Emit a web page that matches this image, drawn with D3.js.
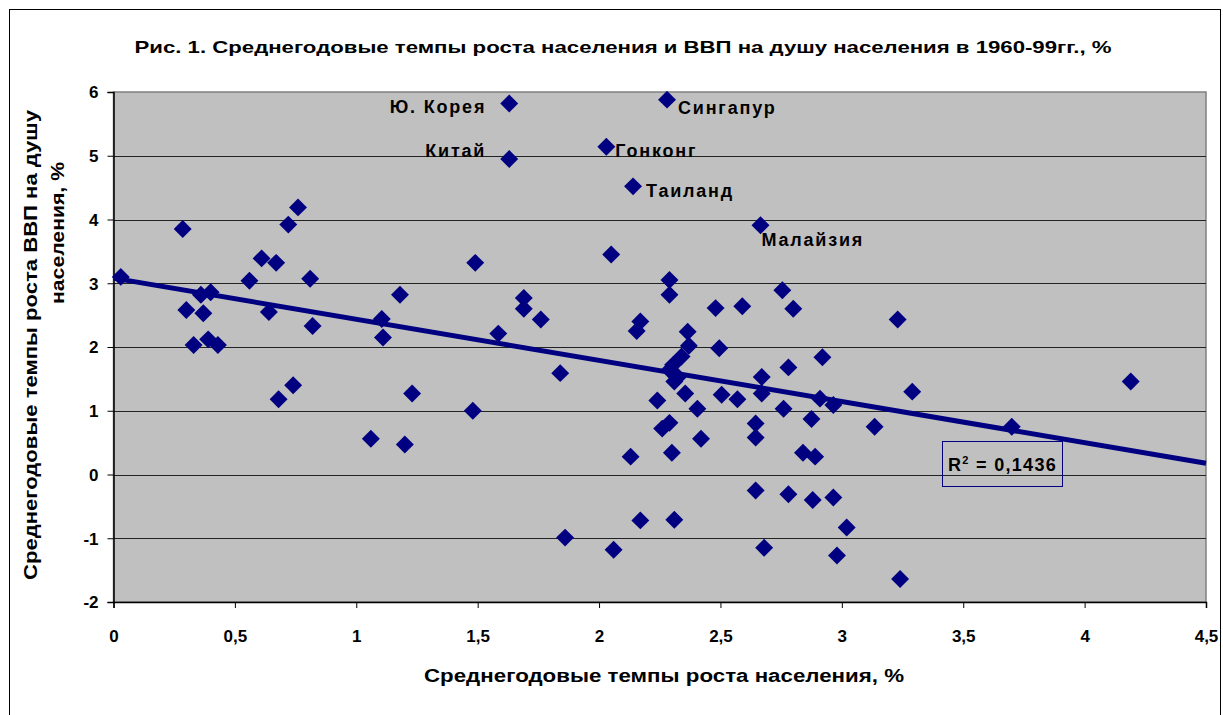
<!DOCTYPE html>
<html>
<head>
<meta charset="utf-8">
<script src="https://cdn.jsdelivr.net/npm/d3@7"></script>
<style>
  body { margin: 0; background: #fff; }
  text { font-family: "Liberation Sans", Arial, sans-serif; font-weight: bold; }
</style>
</head>
<body>
<div id="chart"></div>
<script>
// population growth, % (x) and GDP per capita growth, % (y), 1960-99
var popGrowth = [
  0.03, 0.285, 0.76, 0.72, 0.61, 0.67, 0.56, 0.81, 0.30, 0.36,
  0.40, 0.37, 0.64, 0.82, 1.105, 1.11, 1.18, 0.33, 0.39, 0.43,
  0.68, 0.74, 1.06, 1.585, 1.23, 1.20, 1.48, 1.84, 1.86, 2.06,
  2.17, 2.31, 2.13, 2.24, 2.26, 2.29, 2.30, 2.31, 1.63, 1.63,
  2.03, 2.14, 2.28, 1.49, 2.05, 1.69, 1.69, 1.76, 2.29, 2.29,
  2.17, 2.155, 2.665, 2.48, 2.59, 2.755, 2.80, 3.23, 2.365, 2.37,
  2.495, 2.92, 2.78, 2.34, 2.305, 2.29, 2.67, 2.325, 2.355, 2.505,
  2.57, 2.67, 2.91, 2.965, 2.405, 2.76, 2.875, 3.135, 3.29, 2.42,
  2.645, 2.645, 2.84, 2.89, 2.645, 2.78, 2.88, 2.965, 3.02, 2.68,
  2.98, 3.24, 3.70, 4.19
];
var gdpGrowth = [
  3.10, 3.85, 4.19, 3.92, 3.39, 3.32, 3.04, 3.07, 2.58, 2.82,
  2.86, 2.53, 2.55, 2.33, 2.44, 2.15, 2.82, 2.03, 2.12, 2.03,
  1.18, 1.40, 0.56, 2.21, 1.27, 0.47, 1.00, 1.59, -0.99, -1.18,
  -0.72, -0.71, 0.28, 1.16, 0.72, 0.81, 0.34, 1.46, 5.82, 4.95,
  5.14, 4.52, 5.88, 3.32, 3.45, 2.77, 2.60, 2.43, 3.05, 2.82,
  2.40, 2.25, 3.91, 2.61, 2.64, 2.89, 2.60, 2.43, 2.24, 2.02,
  1.98, 1.84, 1.68, 1.85, 1.72, 1.64, 1.53, 1.53, 1.27, 1.25,
  1.18, 1.27, 1.19, 1.09, 1.03, 1.03, 0.87, 0.75, 1.30, 0.56,
  0.80, 0.58, 0.34, 0.28, -0.25, -0.31, -0.40, -0.36, -0.83, -1.15,
  -1.27, -1.64, 0.75, 1.46
];

// labelled countries: index into the arrays above
var labelNames = ["Ю. Корея", "Китай", "Гонконг", "Таиланд", "Сингапур", "Малайзия"];
var labelIndex = [38, 39, 40, 41, 42, 52];

// linear trend as shown on the chart: [intercept, slope], and its R^2 label
var trendCoef = [3.08, -0.645];
var r2Text = "0,1436";

var xTicks = [0, 0.5, 1, 1.5, 2, 2.5, 3, 3.5, 4, 4.5];
var yTicks = [-2, -1, 0, 1, 2, 3, 4, 5, 6];

var W = 1223, H = 715;
var plot = {left: 113.5, right: 1206, top: 92, bottom: 602};
var fmt = function (d) { return String(d).replace(".", ","); };

var svg = d3.select("#chart").append("svg")
    .attr("width", W)
    .attr("height", H);

// outer chart frame
svg.append("rect")
    .attr("x", 9.5).attr("y", 9.5)
    .attr("width", 1211).attr("height", 720)
    .attr("fill", "#fff")
    .attr("stroke", "#000")
    .attr("stroke-width", 1);

var x = d3.scaleLinear().domain([0, 4.5]).range([plot.left, plot.right]);
var y = d3.scaleLinear().domain([-2, 6]).range([plot.bottom, plot.top]);

// plot area background
svg.append("rect")
    .attr("x", plot.left).attr("y", plot.top)
    .attr("width", plot.right - plot.left)
    .attr("height", plot.bottom - plot.top)
    .attr("fill", "#c0c0c0")
    .attr("stroke", "#808080")
    .attr("stroke-width", 1.5);

// horizontal gridlines
svg.selectAll(".grid")
    .data(yTicks.filter(function (d) { return d > -2 && d < 6; }))
    .enter().append("line")
    .attr("class", "grid")
    .attr("x1", plot.left).attr("x2", plot.right)
    .attr("y1", function (d) { return Math.round(y(d)) + 0.5; })
    .attr("y2", function (d) { return Math.round(y(d)) + 0.5; })
    .attr("stroke", "#222")
    .attr("stroke-width", 1);

// axes
var xAxis = svg.append("g")
    .attr("transform", "translate(0," + plot.bottom + ")")
    .call(d3.axisBottom(x).tickValues(xTicks).tickSize(6).tickPadding(22).tickFormat(fmt));
var yAxis = svg.append("g")
    .attr("transform", "translate(" + plot.left + ",0)")
    .call(d3.axisLeft(y).tickValues(yTicks).tickSize(6).tickPadding(9).tickFormat(fmt));

[xAxis, yAxis].forEach(function (g) {
    g.select(".domain").attr("stroke", "#000").attr("stroke-width", 1.5);
    g.selectAll(".tick line").attr("stroke", "#000");
    g.selectAll(".tick text")
        .attr("fill", "#000")
        .style("font-size", "17px")
        .style("font-family", "'Liberation Sans', Arial, sans-serif")
        .style("font-weight", "bold");
});
yAxis.selectAll(".tick text").attr("dy", "0.35em");

// trend line
svg.append("line")
    .attr("x1", x(0)).attr("y1", y(trendCoef[0]))
    .attr("x2", x(4.5)).attr("y2", y(trendCoef[0] + trendCoef[1] * 4.5))
    .attr("stroke", "#000080")
    .attr("stroke-width", 5);

// markers
var pts = popGrowth.map(function (v, i) { return {x: v, y: gdpGrowth[i]}; });
svg.selectAll(".pt")
    .data(pts)
    .enter().append("path")
    .attr("class", "pt")
    .attr("d", d3.symbol().type(d3.symbolDiamond2).size(205))
    .attr("transform", function (d) {
        return "translate(" + x(d.x) + "," + y(d.y) + ")";
    })
    .attr("fill", "#000080");

// country labels
var labelOffsets = [[-23, 10, "end"], [-23, -2, "end"], [9, 10, "start"],
                    [13, 11, "start"], [11, 14, "start"], [1, 21, "start"]];
svg.selectAll(".lbl")
    .data(labelNames)
    .enter().append("text")
    .attr("class", "lbl")
    .attr("x", function (d, i) { return x(popGrowth[labelIndex[i]]) + labelOffsets[i][0]; })
    .attr("y", function (d, i) { return y(gdpGrowth[labelIndex[i]]) + labelOffsets[i][1]; })
    .attr("text-anchor", function (d, i) { return labelOffsets[i][2]; })
    .style("font-size", "18px")
    .style("letter-spacing", "1.8px")
    .text(function (d) { return d; });

// R^2 box
svg.append("rect")
    .attr("x", 942.5).attr("y", 441.5)
    .attr("width", 120).attr("height", 45)
    .attr("fill", "none")
    .attr("stroke", "#000080")
    .attr("stroke-width", 1);
var r2 = svg.append("text")
    .attr("x", 948).attr("y", 471)
    .style("font-size", "18px")
    .style("letter-spacing", "1.3px");
r2.append("tspan").text("R");
r2.append("tspan").attr("dy", -7).style("font-size", "11px").text("2");
r2.append("tspan").attr("dy", 7).text(" = " + r2Text);

// title
svg.append("text")
    .attr("x", 623).attr("y", 53)
    .attr("text-anchor", "middle")
    .attr("textLength", 977)
    .attr("lengthAdjust", "spacingAndGlyphs")
    .style("font-size", "17px")
    .text("Рис. 1. Среднегодовые темпы роста населения и ВВП на душу населения в 1960-99гг., %");

// x axis title
svg.append("text")
    .attr("x", 664).attr("y", 682)
    .attr("text-anchor", "middle")
    .attr("textLength", 480)
    .attr("lengthAdjust", "spacingAndGlyphs")
    .style("font-size", "18px")
    .text("Среднегодовые темпы роста населения, %");

// y axis title, two lines
svg.append("text")
    .attr("transform", "translate(37,345) rotate(-90)")
    .attr("text-anchor", "middle")
    .attr("textLength", 470)
    .attr("lengthAdjust", "spacingAndGlyphs")
    .style("font-size", "18px")
    .text("Среднегодовые темпы роста  ВВП на душу");
svg.append("text")
    .attr("transform", "translate(64,233) rotate(-90)")
    .attr("text-anchor", "middle")
    .attr("textLength", 142)
    .attr("lengthAdjust", "spacingAndGlyphs")
    .style("font-size", "18px")
    .text("населения, %");
</script>
</body>
</html>
